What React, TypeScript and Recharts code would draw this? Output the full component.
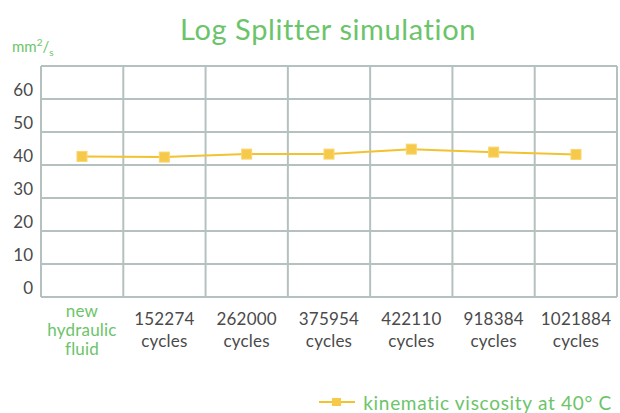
import React from 'react'
import { LineChart, Line, XAxis, YAxis, CartesianGrid, Legend } from 'recharts'

const categories = [
  'new hydraulic fluid',
  '152274 cycles',
  '262000 cycles',
  '375954 cycles',
  '422110 cycles',
  '918384 cycles',
  '1021884 cycles',
]
const viscosity = [42.6, 42.4, 43.3, 43.3, 44.8, 43.9, 43.2]
const yTicks = [0, 10, 20, 30, 40, 50, 60, 70]
const seriesName = 'kinematic viscosity at 40° C'

const data = categories.map((name, i) => ({ name, value: viscosity[i] }))

const GREEN = '#6cc46a'
const YELLOW = '#f3c22f'
const GRID = '#b5c0c0'
const FONT = 'Lato, "Open Sans", sans-serif'

function SquareDot(props: any) {
  const { cx, cy } = props
  if (cx == null || cy == null) return null
  return <rect x={cx - 5} y={cy - 5} width={10} height={10} fill="#f7c94a" stroke="#f9d66e" strokeWidth={1} />
}

function XTick(props: any) {
  const { x, y, payload, index } = props
  const lines = String(payload.value).split(' ')
  const first = index === 0
  const lh = first ? 19 : 22
  const top = first ? y + 12 : y + 20
  return (
    <text textAnchor="middle" fontSize={17} fontFamily={FONT} fill={first ? GREEN : '#4a4a4a'} letterSpacing={0.2}>
      {lines.map((l, i) => (
        <tspan key={i} x={x} y={top + i * lh}>{l}</tspan>
      ))}
    </text>
  )
}

function YTick(props: any) {
  const { x, y, payload } = props
  if (payload.value === 70) return null
  return (
    <text x={x} y={y - 9} dy="0.355em" textAnchor="end" fontSize={17} fontFamily={FONT} fill="#4a4a4a">
      {payload.value}
    </text>
  )
}

function LegendContent() {
  return (
    <div style={{ height: 22, display: 'flex', alignItems: 'center', justifyContent: 'flex-end', paddingRight: 5, fontFamily: FONT, fontSize: 19, letterSpacing: 0.7, color: GREEN }}>
      <svg width={38} height={14} style={{ marginRight: 6 }}>
        <line x1={0} y1={7} x2={36} y2={7} stroke={YELLOW} strokeWidth={2} />
        <rect x={13} y={3} width={9} height={8} fill="#f7c94a" />
      </svg>
      <span>{seriesName}</span>
    </div>
  )
}

export default function App() {
  return (
    <div style={{ position: 'absolute', left: 0, top: 0, width: 620, height: 413, background: '#fff' }}>
      <div style={{ position: 'absolute', left: 0, width: 620, top: 11, textAlign: 'center', fontFamily: FONT, fontSize: 29, letterSpacing: 0.6, color: GREEN, paddingLeft: 36, boxSizing: 'border-box' }}>
        Log Splitter simulation
      </div>
      <div style={{ position: 'absolute', left: 12, top: 36, fontFamily: FONT, fontSize: 15, color: GREEN }}>
        mm<sup style={{ fontSize: 10 }}>2</sup>/<sub style={{ fontSize: 10 }}>s</sub>
      </div>
      <LineChart width={620} height={413} data={data} margin={{ top: 66, right: 3, left: 0, bottom: 0 }}>
        <CartesianGrid
          stroke={GRID}
          strokeWidth={2}
          verticalCoordinatesGenerator={({ offset }: any) =>
            Array.from({ length: categories.length + 1 }, (_, i) => offset.left + (i * offset.width) / categories.length)
          }
        />
        <XAxis
          dataKey="name"
          interval={0}
          height={94}
          axisLine={false}
          tickLine={false}
          padding={{ left: 41, right: 41 }}
          tick={<XTick />}
        />
        <YAxis width={41} domain={[0, 70]} ticks={yTicks} axisLine={false} tickLine={false} tick={<YTick />} />
        <Legend verticalAlign="bottom" align="right" content={<LegendContent />} />
        <Line
          type="linear"
          dataKey="value"
          name={seriesName}
          stroke={YELLOW}
          strokeWidth={2}
          dot={<SquareDot />}
          activeDot={false}
          isAnimationActive={false}
        />
      </LineChart>
    </div>
  )
}
